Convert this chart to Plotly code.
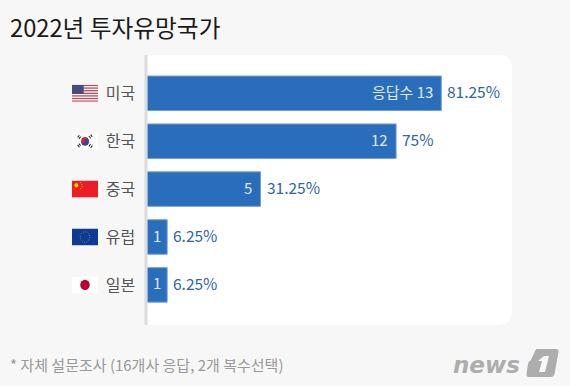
import base64
import plotly.graph_objects as go

countries = ["미국", "한국", "중국", "유럽", "일본"]
bar_lengths = [13, 11.0, 5, 0.87, 0.87]
inside_labels = ["응답수 13", "12", "5", "1", "1"]
percent_labels = ["81.25%", "75%", "31.25%", "6.25%", "6.25%"]
inside_pad = [6, 6, 7, 4, 4]

W, H = 570, 386
FONT = "Noto Sans CJK KR"
BG = "#f7f7f7"
BAR = "#2a6ebb"
UNIT = 22.6
X0, X1 = 147.5, 512
Y0, Y1 = 55, 325


def px(x):
    return x / W


def py(y):
    return 1 - y / H


def uri(svg):
    return "data:image/svg+xml;base64," + base64.b64encode(svg.encode()).decode()


def stripes():
    s = '<rect width="60" height="36" fill="#fff"/>'
    for i in range(0, 13, 2):
        s += f'<rect y="{i*36/13:.2f}" width="60" height="{36/13:.2f}" fill="#b5475a"/>'
    s += '<rect width="27" height="19.4" fill="#4a4a80"/>'
    return s


flags = [
    f'<svg xmlns="http://www.w3.org/2000/svg" viewBox="0 0 60 36">{stripes()}</svg>',
    '<svg xmlns="http://www.w3.org/2000/svg" viewBox="0 0 60 36"><rect width="60" height="36" fill="#fff"/>'
    '<circle cx="30" cy="18" r="9" fill="#c8283c"/><path d="M21 18a9 9 0 0 0 18 0a4.5 4.5 0 0 0-9 0a4.5 4.5 0 0 1-9 0z" fill="#1f4e9c"/>'
    '<g stroke="#222" stroke-width="2.4" stroke-dasharray="6 1.5"><path d="M13 10l5-6M16 13l5-6M39 7l5 6M43 4l5 6M13 26l5 6M16 23l5 6M39 29l5-6M43 32l5-6"/></g></svg>',
    '<svg xmlns="http://www.w3.org/2000/svg" viewBox="0 0 60 36"><rect width="60" height="36" fill="#ee1c25"/>'
    '<circle cx="10" cy="10" r="4.5" fill="#ffde00"/><g fill="#ffde00"><circle cx="20" cy="4" r="1.2"/><circle cx="23" cy="8" r="1.2"/><circle cx="23" cy="13" r="1.2"/><circle cx="20" cy="17" r="1.2"/></g></svg>',
    '<svg xmlns="http://www.w3.org/2000/svg" viewBox="0 0 60 36"><rect width="60" height="36" fill="#0f3a94"/>'
    '<circle cx="30" cy="18" r="11" fill="none" stroke="#e8d44a" stroke-width="1.6" stroke-dasharray="1.6 4.16"/></svg>',
    '<svg xmlns="http://www.w3.org/2000/svg" viewBox="0 0 60 36"><rect width="60" height="36" fill="#fff"/>'
    '<circle cx="30" cy="18" r="11" fill="#bc002d"/></svg>',
]

logo_one = (
    '<svg xmlns="http://www.w3.org/2000/svg" viewBox="0 0 34 30" preserveAspectRatio="none">'
    '<path d="M11 1h20q3 0 2.5 3l-4 22q-.7 3-4 3H4q-3 0-2.5-3L3 16q.5-3 3-4z" fill="#adadad"/>'
    '<path d="M13 13l6-5h5l-4 16h-6l3-11z" fill="#f7f7f7"/></svg>'
)

fig = go.Figure(
    go.Bar(
        y=countries,
        x=bar_lengths,
        orientation="h",
        width=0.72,
        marker=dict(color=BAR, line=dict(color="#6f9fd6", width=1)),
        hoverinfo="skip",
    )
)

annotations = []
for c, v, inner, pct, pad in zip(countries, bar_lengths, inside_labels, percent_labels, inside_pad):
    annotations.append(dict(x=v, y=c, xref="x", yref="y", text=inner, showarrow=False,
                            xanchor="right", xshift=-pad, yshift=2,
                            font=dict(family=FONT, size=15, color="#dfe9f6")))
    annotations.append(dict(x=v, y=c, xref="x", yref="y", text=pct, showarrow=False,
                            xanchor="left", xshift=4, yshift=2,
                            font=dict(family=FONT, size=15.5, color="#2f65a5")))

annotations += [
    dict(x=px(8), y=py(27), xref="paper", yref="paper", text="2022년 투자유망국가", showarrow=False,
         xanchor="left", yanchor="middle", font=dict(family=FONT, size=23.7, color="#1a1a1a")),
    dict(x=px(8), y=py(364), xref="paper", yref="paper", text="* 자체 설문조사 (16개사 응답, 2개 복수선택)",
         showarrow=False, xanchor="left", yanchor="middle", font=dict(family=FONT, size=15, color="#999999")),
    dict(x=px(522), y=py(365), xref="paper", yref="paper", text="<b><i>news</i></b>", showarrow=False,
         xanchor="right", yanchor="middle", font=dict(family="DejaVu Sans", size=23, color="#adadad")),
]

images = []
for i, svg in enumerate(flags):
    cy = 93.3 + 47.9 * i
    images.append(dict(source=uri(svg), xref="paper", yref="paper", x=px(72), y=py(cy - 8.5),
                       sizex=26 / W, sizey=17 / H, xanchor="left", yanchor="top", sizing="stretch", layer="above"))
images.append(dict(source=uri(logo_one), xref="paper", yref="paper", x=px(525), y=py(348),
                   sizex=34 / W, sizey=30 / H, xanchor="left", yanchor="top", sizing="stretch", layer="above"))

r = 14
panel = (f"M {px(X0)} {py(Y0)} L {px(X1-r)} {py(Y0)} Q {px(X1)} {py(Y0)} {px(X1)} {py(Y0+r)} "
         f"L {px(X1)} {py(Y1-r)} Q {px(X1)} {py(Y1)} {px(X1-r)} {py(Y1)} L {px(X0)} {py(Y1)} Z")

fig.update_layout(
    width=W,
    height=H,
    margin=dict(l=0, r=0, t=0, b=0),
    paper_bgcolor=BG,
    plot_bgcolor="rgba(0,0,0,0)",
    showlegend=False,
    xaxis=dict(domain=[px(X0), px(X1)], range=[0, (X1 - X0) / UNIT], visible=False, fixedrange=True),
    yaxis=dict(
        domain=[py(Y1), py(Y0)],
        range=[(Y1 - 93.3) / 47.9, (Y0 - 93.3) / 47.9],
        type="category",
        categoryorder="array",
        categoryarray=countries,
        ticks="outside",
        ticklen=8,
        tickcolor="rgba(0,0,0,0)",
        showgrid=False,
        zeroline=False,
        showline=False,
        tickfont=dict(family=FONT, size=16, color="#555555"),
        fixedrange=True,
    ),
    shapes=[
        dict(type="path", path=panel, xref="paper", yref="paper", fillcolor="#ffffff", line_width=0, layer="below"),
        dict(type="rect", xref="paper", yref="paper", x0=px(144.5), x1=px(147.5), y0=py(Y0), y1=py(Y1),
             fillcolor="#dcdcdc", line_width=0, layer="below"),
    ],
    annotations=annotations,
    images=images,
)

fig.write_html(
    "out.html",
    config={"displayModeBar": False},
    post_script="document.body.style.margin='0';document.body.style.overflow='hidden';document.body.style.background='#f7f7f7';",
)
